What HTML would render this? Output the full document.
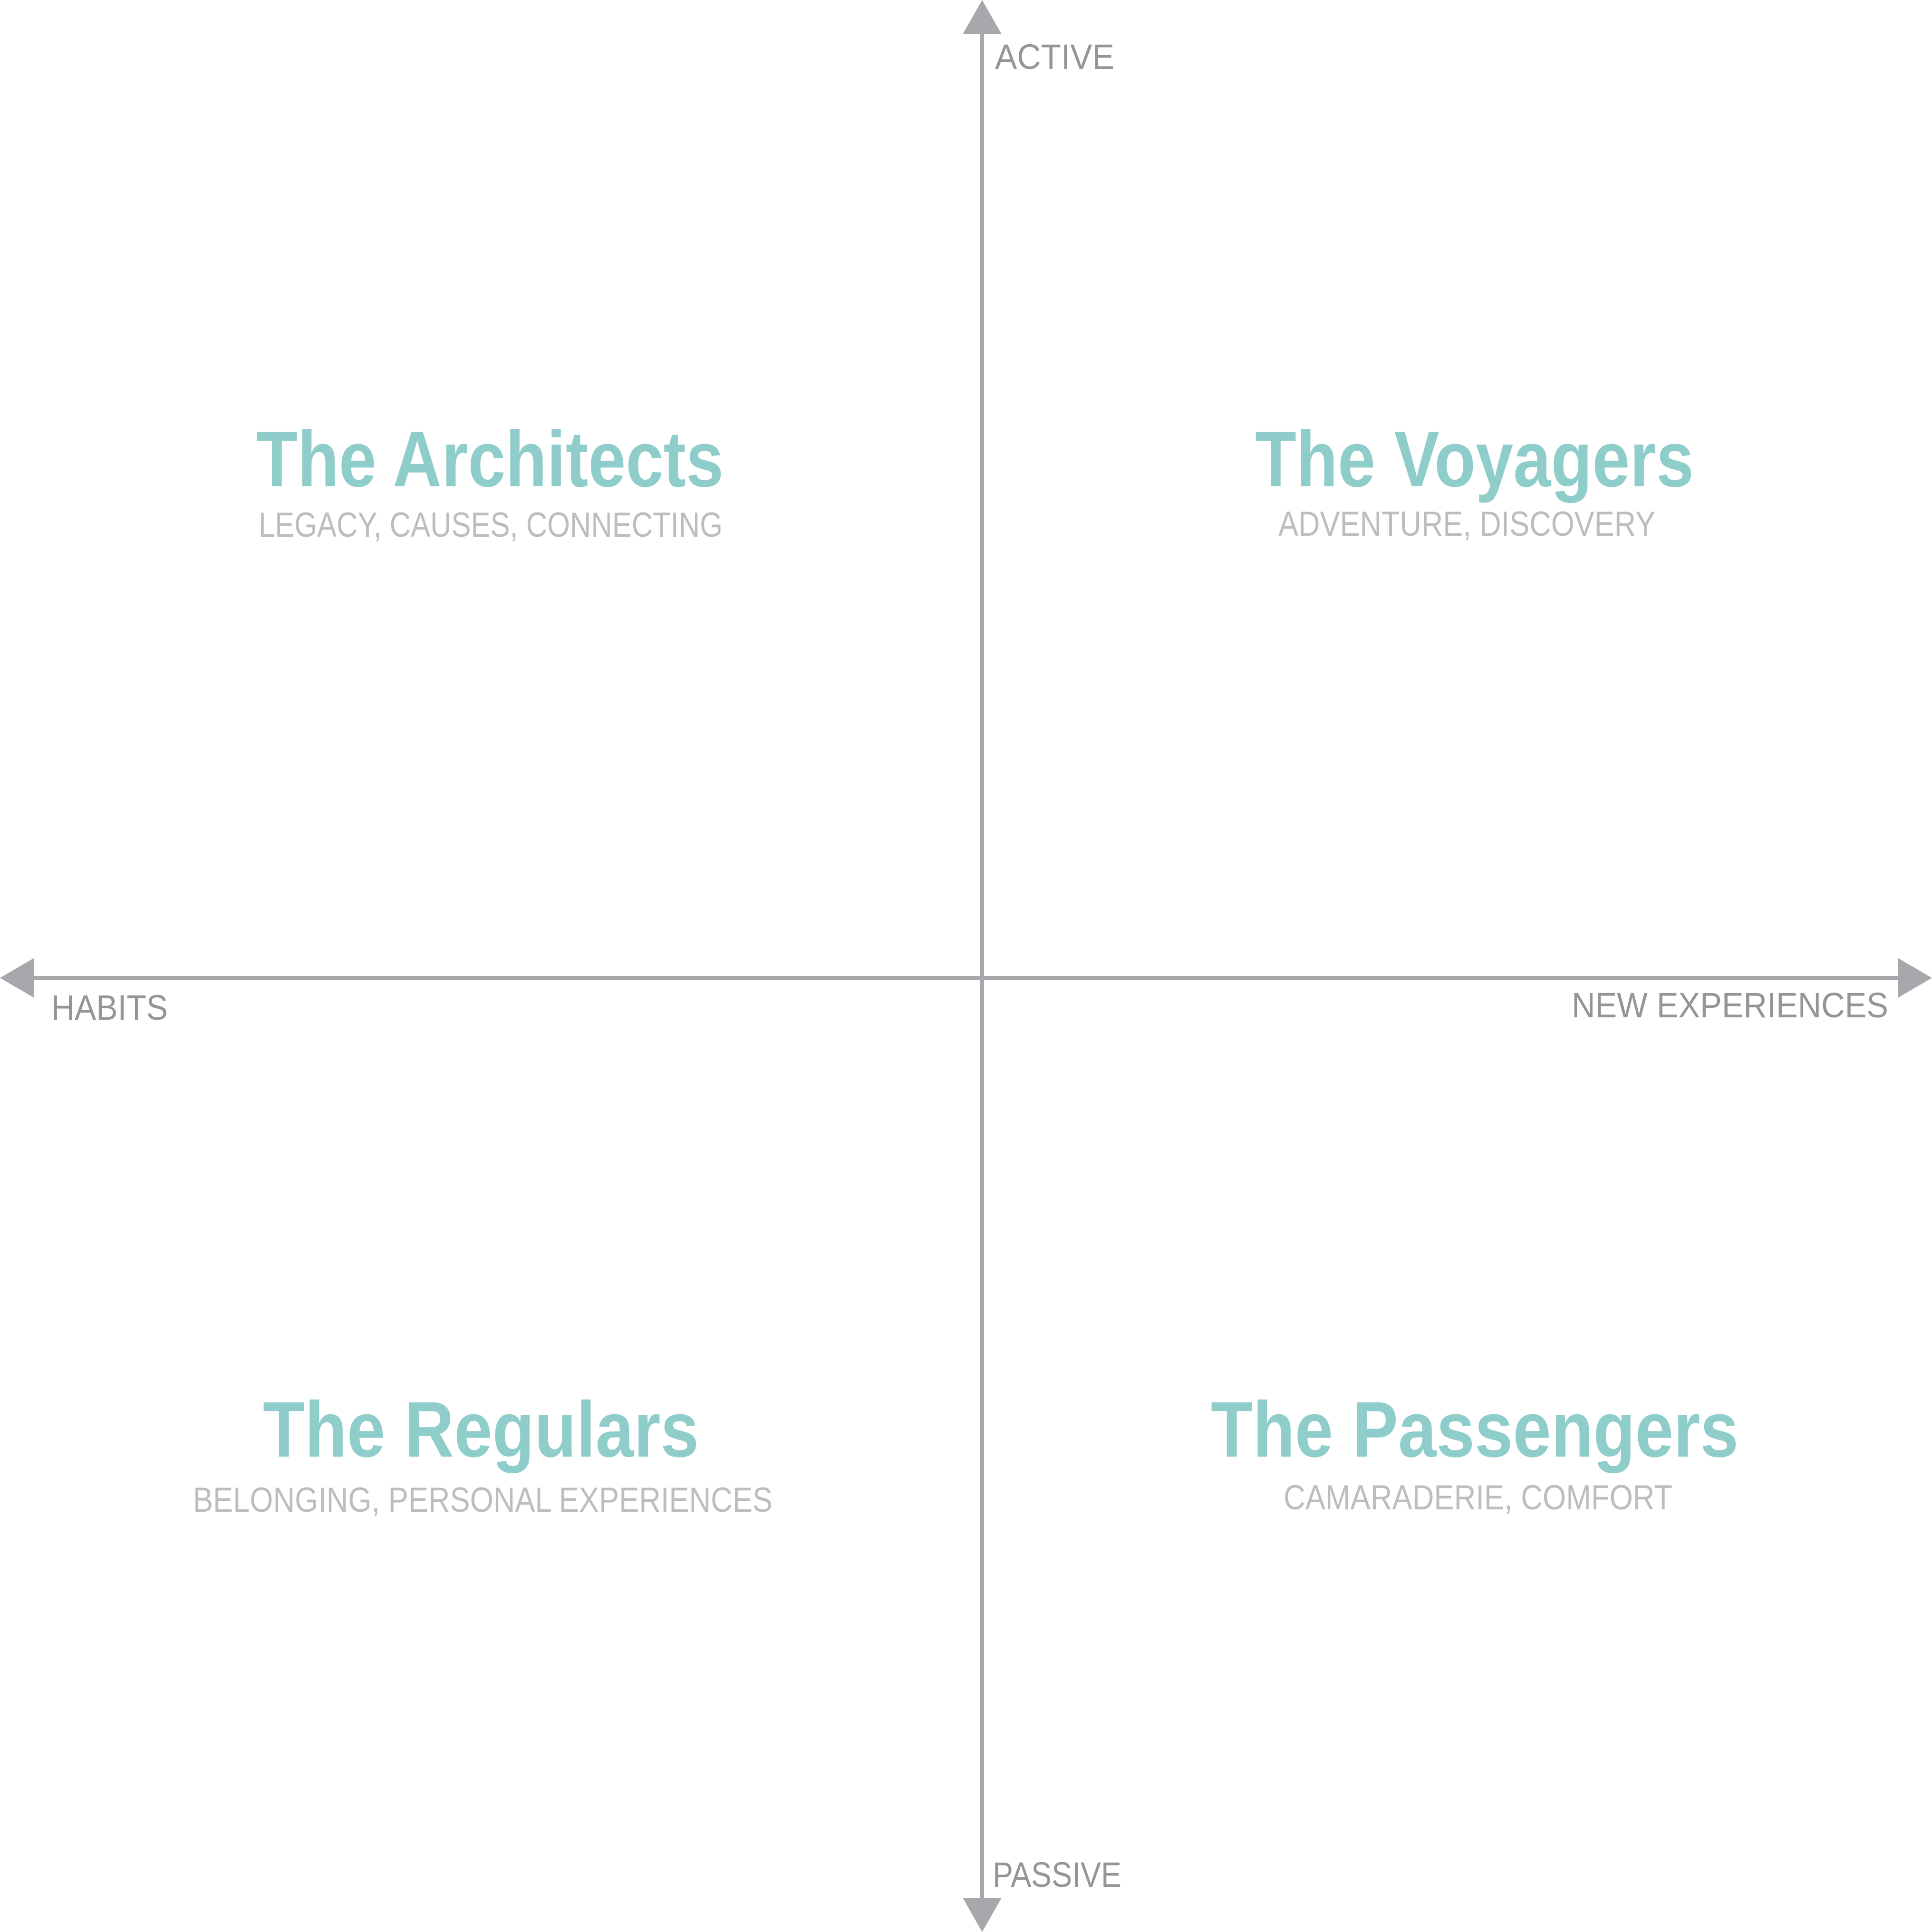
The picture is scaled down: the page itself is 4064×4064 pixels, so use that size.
<!DOCTYPE html>
<html><head><style>html,body{margin:0;padding:0;background:#fff}svg{display:block}</style></head>
<body>
<svg width="4064" height="4064" viewBox="0 0 4064 4064" xmlns="http://www.w3.org/2000/svg">
<rect width="4064" height="4064" fill="#fff"/>
<g fill="#a7a8ab">
<rect x="2062" y="60" width="8" height="3944"/>
<rect x="60" y="2053" width="3944" height="8"/>
<polygon points="2066,0 2025,72 2107,72"/>
<polygon points="2066,4064 2025,3992 2107,3992"/>
<polygon points="0,2057 72,2015 72,2099"/>
<polygon points="4064,2057 3992,2015 3992,2099"/>
</g>
<g font-family="Liberation Sans, sans-serif" fill="#939598" font-size="74">
<text x="2093" y="145" textLength="251" lengthAdjust="spacingAndGlyphs">ACTIVE</text>
<text x="2088" y="3969" textLength="271" lengthAdjust="spacingAndGlyphs">PASSIVE</text>
<text x="108" y="2145" textLength="245" lengthAdjust="spacingAndGlyphs">HABITS</text>
<text x="3306" y="2140" textLength="666" lengthAdjust="spacingAndGlyphs">NEW EXPERIENCES</text>
</g>
<g font-family="Liberation Sans, sans-serif" fill="#8fcdca" font-size="166" font-weight="bold">
<text x="539" y="1023" textLength="983" lengthAdjust="spacingAndGlyphs">The Architects</text>
<text x="2640" y="1023" textLength="923" lengthAdjust="spacingAndGlyphs">The Voyagers</text>
<text x="553" y="3064" textLength="917" lengthAdjust="spacingAndGlyphs">The Regulars</text>
<text x="2547" y="3064" textLength="1110" lengthAdjust="spacingAndGlyphs">The Passengers</text>
</g>
<g font-family="Liberation Sans Narrow, Liberation Sans, sans-serif" fill="#bcbdbf" font-size="73">
<text x="544" y="1129" textLength="976" lengthAdjust="spacingAndGlyphs">LEGACY, CAUSES, CONNECTING</text>
<text x="2689" y="1127" textLength="793" lengthAdjust="spacingAndGlyphs">ADVENTURE, DISCOVERY</text>
<text x="406" y="3180" textLength="1219" lengthAdjust="spacingAndGlyphs">BELONGING, PERSONAL EXPERIENCES</text>
<text x="2700" y="3175" textLength="818" lengthAdjust="spacingAndGlyphs">CAMARADERIE, COMFORT</text>
</g>
</svg>
</body></html>
